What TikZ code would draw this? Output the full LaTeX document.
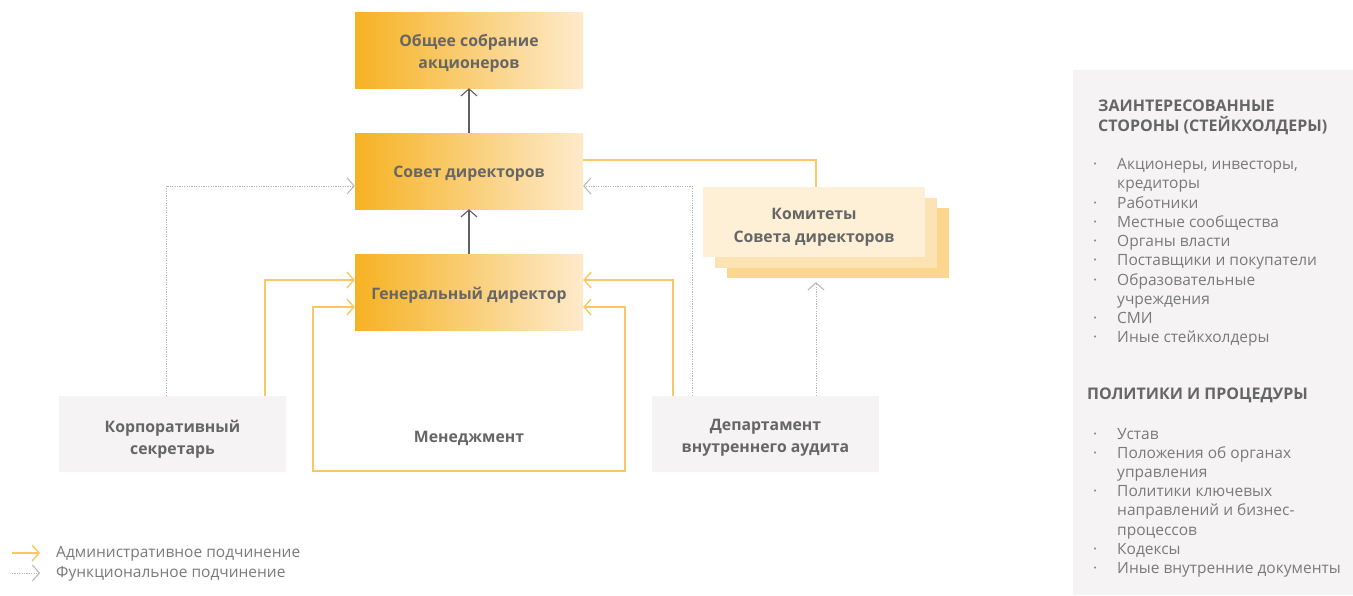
\documentclass[tikz,border=0pt]{standalone}
\usepackage{fontspec}
\setmainfont{Open Sans}
\usetikzlibrary{arrows.meta,calc}
\definecolor{txt}{HTML}{666666}
\definecolor{ltxt}{HTML}{7A7A7A}
\definecolor{gL}{HTML}{F6B223}
\definecolor{gR}{HTML}{FEEACB}
\definecolor{adm}{HTML}{FBC766}
\definecolor{fun}{HTML}{B4B4B4}
\definecolor{dark}{HTML}{606060}
\definecolor{pale}{HTML}{F5F3F4}
\definecolor{k1}{HTML}{FEF0D6}
\definecolor{k2}{HTML}{FDE3B4}
\definecolor{k3}{HTML}{FCD58E}
\newcommand\lowered[2]{\raisebox{-#1}[\height][\depth]{#2}}
\tikzset{
  tip/.style={-{Straight Barb[length=7pt,width=16pt]}},
  gbox/.style={minimum width=228pt,minimum height=76pt,inner sep=0pt,align=center,
    left color=gL,right color=gR,shading angle=90,text=txt,
    font=\fontsize{15.8}{22}\selectfont\bfseries},
  pbox/.style={minimum width=227pt,minimum height=76pt,inner sep=0pt,align=center,
    fill=pale,text=txt,font=\fontsize{15.8}{22.5}\selectfont\bfseries},
  kbox/.style={minimum width=222pt,minimum height=70pt,inner sep=0pt,align=center,
    text=txt,font=\fontsize{15.8}{23}\selectfont\bfseries},
  mainln/.style={draw=dark,line width=1.1pt,tip},
  admln/.style={draw=adm,line width=1.4pt},
  funln/.style={draw=fun,line width=1pt,dash pattern=on 1.2pt off 1.2pt},
  legtxt/.style={anchor=west,text=ltxt,font=\fontsize{15.5}{16}\selectfont,inner sep=0pt},
}
\begin{document}
\begin{tikzpicture}[x=1pt,y=-1pt]
\useasboundingbox (0,0) rectangle (1353,595);
\fill[white] (0,0) rectangle (1353,595);
% nodes
\node[gbox] (obs) at (469,50) {\lowered{3pt}{Общее собрание}\\\lowered{3pt}{акционеров}};
\node[gbox] (sov) at (469,171) {\lowered{3pt}{Совет директоров}};
\node[gbox] (gen) at (469,292) {\lowered{3pt}{Генеральный директор}};
\node[kbox,fill=k3] (kom3) at (837.5,243) {};
\node[kbox,fill=k2] (kom2) at (826,232.5) {};
\node[kbox,fill=k1] (kom) at (814,222) {\lowered{5pt}{Комитеты}\\\lowered{5pt}{Совета директоров}};
\node[pbox] (korp) at (172.5,434) {\lowered{5pt}{Корпоративный}\\\lowered{5pt}{секретарь}};
\node[pbox] (dep) at (765.5,434) {\lowered{4pt}{Департамент}\\\lowered{4pt}{внутреннего аудита}};
\node[text=txt,font=\fontsize{15.8}{22}\selectfont\bfseries] (men) at (469,438) {Менеджмент};
% connectors
\draw[mainln] (sov) -- (obs);
\draw[mainln] (gen) -- (sov);
\draw[admln] ([yshift=11pt]sov.east) -| ([xshift=2pt]kom.north);
\draw[funln,tip] ([xshift=-6.5pt]korp.north) |- ([yshift=-15pt]sov.west);
\draw[admln,tip] ([xshift=92.5pt]korp.north) |- ([yshift=12pt]gen.west);
\coordinate (mL) at (313,471);
\coordinate (mR) at (625,471);
\draw[admln,{Straight Barb[length=7pt,width=16pt]}-{Straight Barb[length=7pt,width=16pt]}]
  ([yshift=-15pt]gen.west) -| (mL) -- (mR) |- ([yshift=-15pt]gen.east);
\draw[admln,tip] ([xshift=-92.5pt]dep.north) |- ([yshift=12pt]gen.east);
\draw[funln,tip] ([xshift=-73.5pt]dep.north) |- ([yshift=-15pt]sov.east);
\coordinate (depk) at ([xshift=50.5pt]dep.north);
\draw[funln,tip,shorten >=4pt] (depk) -- (depk |- kom3.south);
% legend
\coordinate (la1) at (12,553); \coordinate (la2) at (40,553);
\coordinate (lb1) at (12,573); \coordinate (lb2) at (40,573);
\draw[admln,tip] (la1) -- (la2);
\draw[funln,tip] (lb1) -- (lb2);
\node[legtxt] (l1) at (56,554) {Административное подчинение};
\node[legtxt] (l2) at (56,574) {Функциональное подчинение};
% right panel
\fill[pale] (1073,70) rectangle (1353,595);
\node[anchor=north west,inner sep=0pt,align=left,text=txt,
  font=\fontsize{16}{20}\selectfont\bfseries] (h1) at (1098,100)
  {ЗАИНТЕРЕСОВАННЫЕ\\СТОРОНЫ (СТЕЙКХОЛДЕРЫ)};
\node[anchor=north west,inner sep=0pt,text=ltxt] (list1) at (1093,156)
  {\fontsize{15.5}{19.25}\selectfont
   \begin{tabular}{@{}p{24pt}@{}l@{}}
   ·&Акционеры, инвесторы,\\
    &кредиторы\\
   ·&Работники\\
   ·&Местные сообщества\\
   ·&Органы власти\\
   ·&Поставщики и покупатели\\
   ·&Образовательные\\
    &учреждения\\
   ·&СМИ\\
   ·&Иные стейкхолдеры
   \end{tabular}};
\node[anchor=north west,inner sep=0pt,align=left,text=txt,
  font=\fontsize{16}{20}\selectfont\bfseries] (h2) at (1087,388)
  {ПОЛИТИКИ И ПРОЦЕДУРЫ};
\node[anchor=north west,inner sep=0pt,text=ltxt] (list2) at (1093,426)
  {\fontsize{15.5}{19.1}\selectfont
   \begin{tabular}{@{}p{24pt}@{}l@{}}
   ·&Устав\\
   ·&Положения об органах\\
    &управления\\
   ·&Политики ключевых\\
    &направлений и бизнес-\\
    &процессов\\
   ·&Кодексы\\
   ·&Иные внутренние документы
   \end{tabular}};
\end{tikzpicture}
\end{document}
